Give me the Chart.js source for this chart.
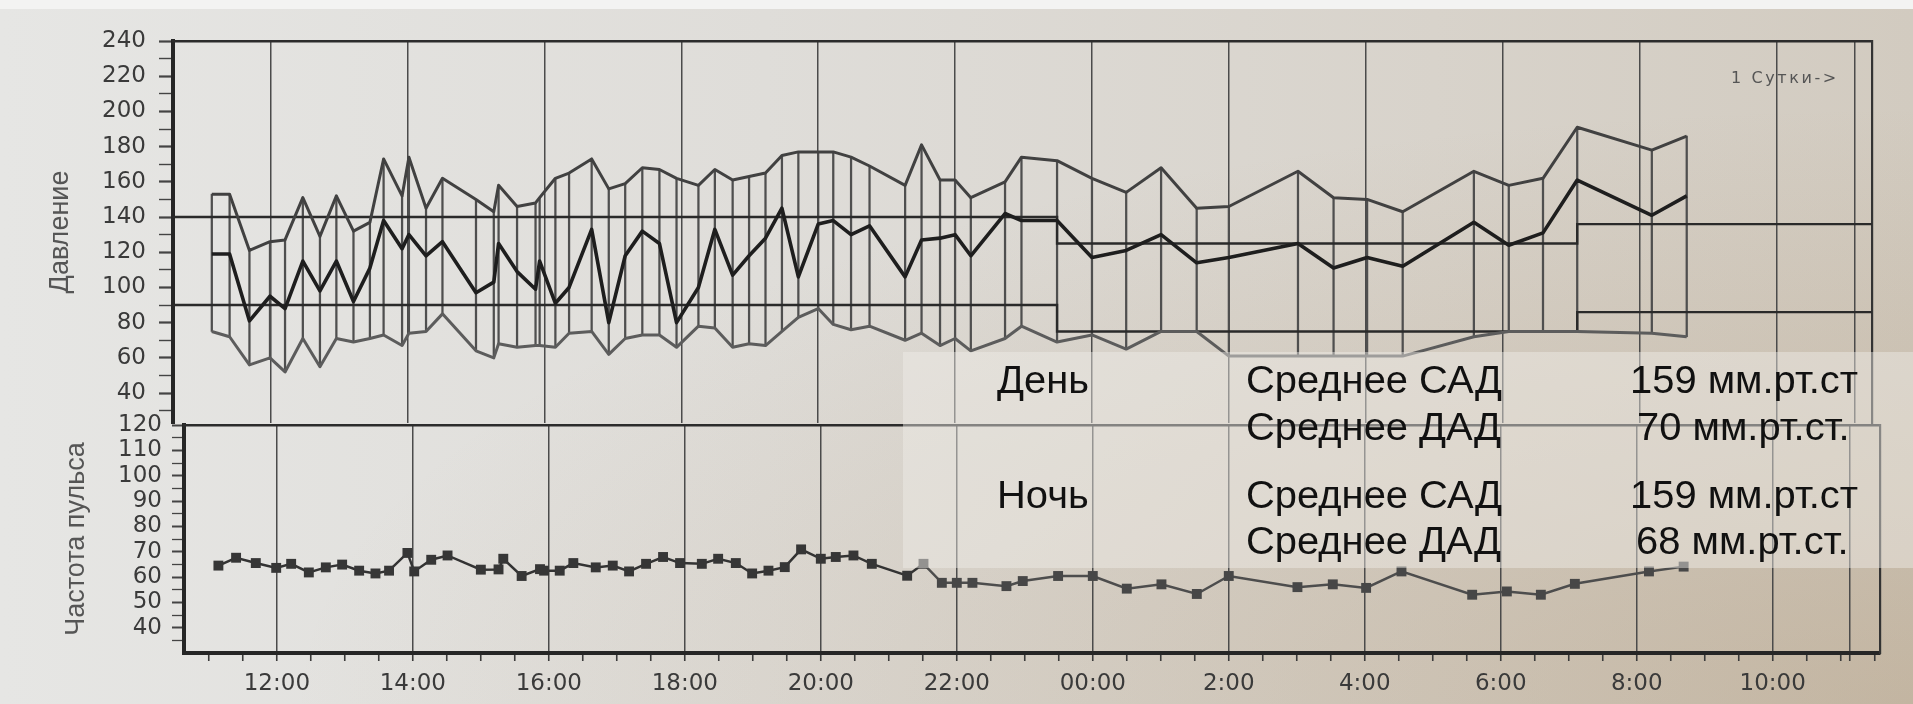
<!DOCTYPE html>
<html><head><meta charset="utf-8">
<script src="https://cdn.jsdelivr.net/npm/chart.js@4/dist/chart.umd.min.js"></script>
<style>
html,body{margin:0;padding:0;}
body{width:1913px;height:704px;position:relative;overflow:hidden;
 background:
  radial-gradient(ellipse at 100% 100%, rgba(160,130,90,0.30), rgba(160,130,90,0) 60%),
  linear-gradient(90deg, #e6e6e4 0%, #dfddd9 40%, #d8d3cb 75%, #d2cbc0 100%);}
#topstrip{position:absolute;left:0;top:0;width:1913px;height:9px;background:#f3f3f2;}
canvas{position:absolute;left:0;top:0;}
.box{position:absolute;left:903px;width:1010px;background:rgba(240,237,232,0.45);}
.t{position:absolute;font-family:'Liberation Sans',Arial,sans-serif;font-size:38px;line-height:38px;color:#111;white-space:nowrap;transform:scaleX(1.05);transform-origin:0 50%;}
#sutki{position:absolute;left:1731px;top:68px;font-family:'DejaVu Sans',sans-serif;font-size:16px;letter-spacing:2.6px;color:#555;white-space:nowrap;}
</style></head><body>
<div id="topstrip"></div>
<canvas id="c1" width="1913" height="704"></canvas>
<canvas id="c2" width="1913" height="704"></canvas>
<div id="sutki">1 Сутки-&gt;</div>
<div class="box" style="top:352px;height:107px;"></div>
<div class="box" style="top:459px;height:109px;"></div>
<div class="t" style="left:997px;top:361px;">День</div>
<div class="t" style="left:1246px;top:361px;">Среднее САД</div>
<div class="t" style="left:1630px;top:361px;">159 мм.рт.ст</div>
<div class="t" style="left:1246px;top:408px;">Среднее ДАД</div>
<div class="t" style="left:1637px;top:408px;">70 мм.рт.ст.</div>
<div class="t" style="left:997px;top:476px;">Ночь</div>
<div class="t" style="left:1246px;top:476px;">Среднее САД</div>
<div class="t" style="left:1630px;top:476px;">159 мм.рт.ст</div>
<div class="t" style="left:1246px;top:522px;">Среднее ДАД</div>
<div class="t" style="left:1636px;top:522px;">68 мм.рт.ст.</div>
<script>
// measurement times, hours from midnight of day 1 (24 = 00:00 next day)
const times = [11.14,11.40,11.69,11.99,12.21,12.47,12.72,12.96,13.21,13.45,13.65,13.92,14.02,14.27,14.51,15.00,15.26,15.33,15.60,15.87,15.93,16.16,16.36,16.69,16.94,17.18,17.43,17.68,17.93,18.25,18.49,18.75,18.99,19.23,19.47,19.71,20.00,20.22,20.48,20.75,21.27,21.51,21.78,22.00,22.23,22.73,22.97,23.49,24.00,24.50,25.01,25.53,26.00,27.01,27.53,28.02,28.54,29.58,30.09,30.59,31.09,32.18,32.69];
const systolic = [153,153,121,126,127,151,129,152,132,137,173,152,174,145,162,150,143,158,146,148,151,162,165,173,156,159,168,167,162,158,167,161,163,165,175,177,177,177,174,169,158,181,161,161,151,160,174,172,162,154,168,145,146,166,151,150,143,166,158,162,191,178,186];
const meanBP = [119,119,81,95,88,115,98,115,92,111,138,122,130,118,126,97,103,125,109,99,115,91,100,133,80,118,132,125,80,100,133,107,118,128,145,106,136,138,130,135,106,127,128,130,118,142,138,138,117,121,130,114,117,125,111,117,112,137,124,131,161,141,152];
const diastolic = [75,72,56,60,52,71,55,71,69,71,73,67,74,75,85,64,60,68,66,67,67,66,74,75,62,71,73,73,66,78,77,66,68,67,75,83,88,79,76,78,70,74,67,71,64,71,78,69,73,65,75,75,61,61,61,61,61,72,75,75,75,74,72];
const pulse = [64.5,67.6,65.5,63.6,65.2,61.8,63.8,64.9,62.5,61.4,62.5,69.5,62.2,66.8,68.5,62.9,63,67.2,60.4,63.1,62.5,62.5,65.5,63.8,64.5,62.2,65.2,67.9,65.5,65.2,67.2,65.5,61.4,62.5,63.9,70.9,67.2,67.9,68.5,65.2,60.5,65.2,57.7,57.7,57.7,56.4,58.4,60.4,60.4,55.4,57.1,53.3,60.4,56.0,57.1,55.7,62.2,53.0,54.3,53.0,57.3,62.2,64.1];

// threshold lines (day / night / morning)
const limitTimes = [10.4, 23.49, 31.09, 35.7];
const upperLimit = [140, 125, 136, 136];
const lowerLimit = [90, 75, 86, 86];

// axis ticks and labels
const hourTicks = [12,14,16,18,20,22,24,26,28,30,32,34];
const hourLabels = ['12:00','14:00','16:00','18:00','20:00','22:00','00:00','2:00','4:00','6:00','8:00','10:00'];
const oneDayMark = 35.14;
const pressureTicks = [30,40,50,60,70,80,90,100,110,120,130,140,150,160,170,180,190,200,210,220,230,240];
const pressureLabels = [40,60,80,100,120,140,160,180,200,220,240];
const pulseTicks = [35,40,45,50,55,60,65,70,75,80,85,90,95,100,105,110,115,120];
const pulseLabels = [40,50,60,70,80,90,100,110,120];
const halfHourTicks = [];
for (let h = 11; h <= 35.5; h += 0.5) halfHourTicks.push(h);
const pulseFadeFrom = 21.4; // later part of the pulse trace is printed lighter

Chart.defaults.font.family = "'DejaVu Sans', sans-serif";
Chart.defaults.animation = false;

const gridCol = '#4b4b4b';
const axisCol = '#262626';
const labelCol = '#3a3a3a';
const isMajor = v => hourTicks.includes(v) || v === oneDayMark;
const majorGrid = ctx => (ctx.tick && isMajor(ctx.tick.value)) ? gridCol : 'rgba(0,0,0,0)';

function frameAxes(xmin, xmax, ymin, ymax) {
  return {
    xTop: {type:'linear', position:'top', min:xmin, max:xmax, offset:false,
      ticks:{display:false}, grid:{display:false, drawTicks:false, offset:false},
      border:{display:true, color:'#2c2c2c', width:2.5}, afterFit(s){ s.height = 0; }},
    yRight: {type:'linear', position:'right', min:ymin, max:ymax,
      ticks:{display:false}, grid:{display:false, drawTicks:false},
      border:{display:true, color:'#333', width:2.2}, afterFit(s){ s.width = 0; }}
  };
}

// ---------- top: pressure ----------
const T_MIN = 10.573, T_MAX = 35.397;
new Chart(document.getElementById('c1'), {
  type: 'line',
  data: { datasets: [
    { type:'bar', data: times.map((t,i)=>({x:t, y:[diastolic[i], systolic[i]]})),
      backgroundColor:'#4f4f4f', barThickness:1.6, order:6 },
    { data: limitTimes.map((t,i)=>({x:t, y:upperLimit[i]})), stepped:'before',
      borderColor:'#2a2a2a', borderWidth:2.4, pointRadius:0, order:5 },
    { data: limitTimes.map((t,i)=>({x:t, y:lowerLimit[i]})), stepped:'before',
      borderColor:'#2a2a2a', borderWidth:2.4, pointRadius:0, order:5 },
    { data: times.map((t,i)=>({x:t, y:diastolic[i]})), borderColor:'#5c5c5c', borderWidth:3,
      pointRadius:0, borderJoinStyle:'round', order:3 },
    { data: times.map((t,i)=>({x:t, y:systolic[i]})), borderColor:'#414141', borderWidth:3,
      pointRadius:0, borderJoinStyle:'round', order:2 },
    { data: times.map((t,i)=>({x:t, y:meanBP[i]})), borderColor:'#1e1e1e', borderWidth:3.6,
      pointRadius:0, borderJoinStyle:'round', order:1 }
  ]},
  options: {
    responsive:false, devicePixelRatio:1,
    layout:{ padding:{ left:0, top:41, right:41, bottom:281 } },
    plugins:{ legend:{display:false}, tooltip:{enabled:false} },
    scales: Object.assign({
      x: { type:'linear', position:'bottom', min:T_MIN, max:T_MAX, offset:false,
        afterBuildTicks(s){ s.ticks = hourTicks.concat([oneDayMark]).map(v=>({value:v})); },
        ticks:{display:false},
        grid:{ color:majorGrid, lineWidth:1.5, drawTicks:false, offset:false },
        border:{display:false}, afterFit(s){ s.height = 0; } },
      y: { type:'linear', position:'left', min:23, max:240,
        afterBuildTicks(s){ s.ticks = pressureTicks.map(v=>({value:v})); },
        ticks:{ autoSkip:false, padding:13, color:labelCol, font:{size:23},
          callback:v => pressureLabels.includes(v) ? String(v) : '' },
        grid:{ drawOnChartArea:false, tickLength:14, tickColor:'#444',
          tickWidth: ctx => (ctx.tick && pressureLabels.includes(ctx.tick.value)) ? 2.2 : 1.4 },
        border:{ color:axisCol, width:4 },
        title:{ display:true, text:'Давление', color:'#555',
          font:{ family:"'Liberation Sans', Arial, sans-serif", size:27 }, padding:{top:44, bottom:0} },
        afterFit(s){ s.width = 173; } }
    }, frameAxes(T_MIN, T_MAX, 23, 240))
  }
});

// ---------- bottom: pulse ----------
const P_MIN = 10.634, P_MAX = 35.578;
new Chart(document.getElementById('c2'), {
  type: 'line',
  data: { datasets: [
    { data: times.map((t,i)=>({x:t, y:pulse[i]})), borderColor:'#333', borderWidth:2.5,
      segment:{ borderColor: ctx => ctx.p0.parsed.x >= pulseFadeFrom ? '#4d4d4d' : '#333' },
      pointStyle:'rect', pointRadius:7, pointBorderWidth:0,
      pointBackgroundColor: ctx => (times[ctx.dataIndex] >= pulseFadeFrom) ? '#474747' : '#363636' }
  ]},
  options: {
    responsive:false, devicePixelRatio:1,
    layout:{ padding:{ left:0, top:425, right:33, bottom:0 } },
    plugins:{ legend:{display:false}, tooltip:{enabled:false} },
    scales: Object.assign({
      x: { type:'linear', position:'bottom', min:P_MIN, max:P_MAX, offset:false,
        afterBuildTicks(s){ s.ticks = halfHourTicks.concat([oneDayMark]).map(v=>({value:v})); },
        ticks:{ autoSkip:false, maxRotation:0, padding:9, color:labelCol, font:{size:23},
          callback:v => { const k = hourTicks.indexOf(v); return k >= 0 ? hourLabels[k] : ''; } },
        grid:{ color:majorGrid, lineWidth:1.5, tickLength:8, tickColor:'#3a3a3a', tickWidth:1.6, offset:false },
        border:{ color:axisCol, width:4 }, afterFit(s){ s.height = 51; } },
      y: { type:'linear', position:'left', min:30, max:120,
        afterBuildTicks(s){ s.ticks = pulseTicks.map(v=>({value:v})); },
        ticks:{ autoSkip:false, padding:10, color:labelCol, font:{size:23},
          callback:v => pulseLabels.includes(v) ? String(v) : '' },
        grid:{ drawOnChartArea:false, tickLength:12, tickColor:'#444',
          tickWidth: ctx => (ctx.tick && pulseLabels.includes(ctx.tick.value)) ? 2 : 1.3 },
        border:{ color:axisCol, width:4 },
        title:{ display:true, text:'Частота пульса', color:'#555',
          font:{ family:"'Liberation Sans', Arial, sans-serif", size:27 }, padding:{top:60, bottom:0} },
        afterFit(s){ s.width = 184; } }
    }, frameAxes(P_MIN, P_MAX, 30, 120))
  }
});
</script>
</body></html>
